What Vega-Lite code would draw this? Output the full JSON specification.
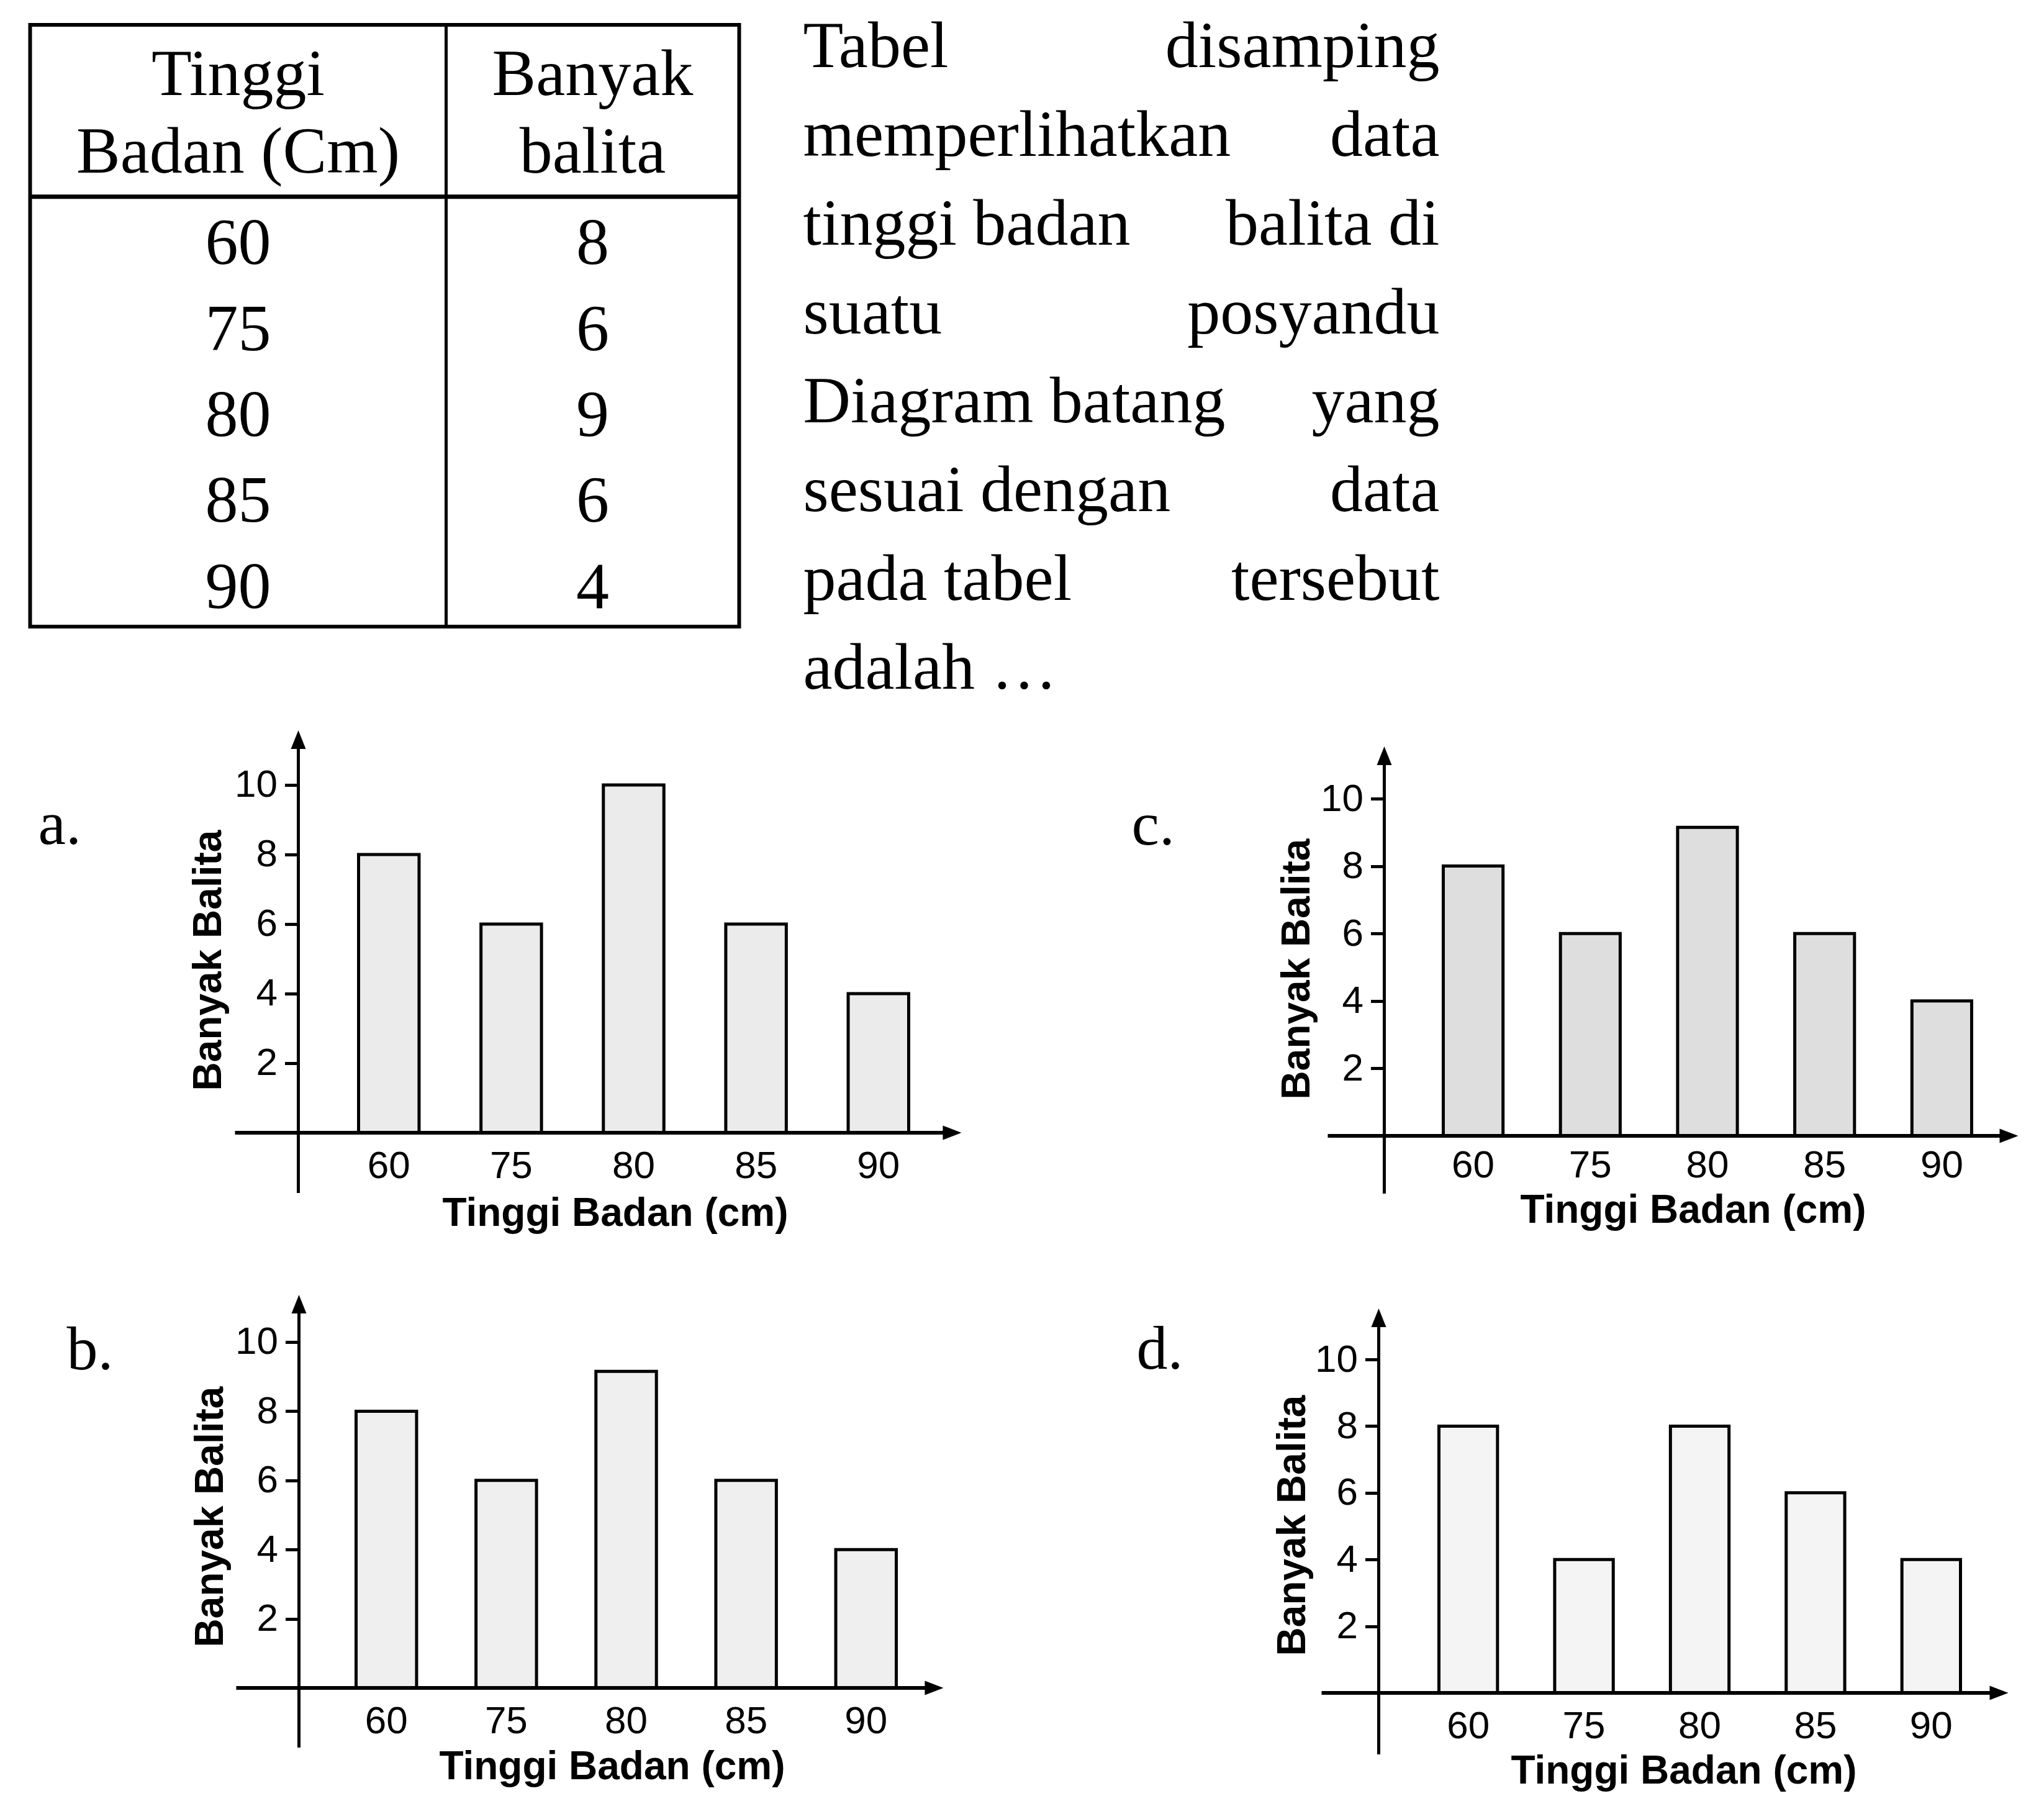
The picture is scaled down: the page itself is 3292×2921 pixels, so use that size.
{
  "$schema": "https://vega.github.io/schema/vega-lite/v6.json",
  "padding": {"left": 41.5, "top": 23, "right": 5, "bottom": 5},
  "background": "white",
  "config": {
    "view": {"stroke": null},
    "axis": {"grid": false, "domain": false, "labelFont": "Liberation Sans", "labelFontSize": 62, "labelColor": "black", "titleFont": "Liberation Sans", "titleFontSize": 64, "titleFontWeight": "bold", "titleColor": "black", "titleAlign": "center", "titleBaseline": "alphabetic", "tickColor": "black"},
    "axisX": {"ticks": false, "tickSize": 0, "labelAngle": 0, "labelPadding": 23},
    "axisY": {"tickSize": 22, "tickWidth": 5, "labelPadding": 12, "titleAngle": -90, "format": "d"}
  },
  "datasets": {
    "tabel": [
      {"tinggi": 60, "banyak": 8},
      {"tinggi": 75, "banyak": 6},
      {"tinggi": 80, "banyak": 9},
      {"tinggi": 85, "banyak": 6},
      {"tinggi": 90, "banyak": 4}
    ],
    "judul_tabel": [
      {"kolom": "tinggi", "judul": ["Tinggi", "Badan (Cm)"]},
      {"kolom": "banyak", "judul": ["Banyak", "balita"]}
    ],
    "paragraf": [
      {"kiri": "Tabel", "kanan": "disamping"},
      {"kiri": "memperlihatkan", "kanan": "data"},
      {"kiri": "tinggi badan", "kanan": "balita di"},
      {"kiri": "suatu", "kanan": "posyandu"},
      {"kiri": "Diagram batang", "kanan": "yang"},
      {"kiri": "sesuai dengan", "kanan": "data"},
      {"kiri": "pada tabel", "kanan": "tersebut"},
      {"kiri": "adalah …", "kanan": ""}
    ],
    "pilihan_a": [
      {"Tinggi": 60, "Banyak": 8},
      {"Tinggi": 75, "Banyak": 6},
      {"Tinggi": 80, "Banyak": 10},
      {"Tinggi": 85, "Banyak": 6},
      {"Tinggi": 90, "Banyak": 4}
    ],
    "pilihan_b": [
      {"Tinggi": 60, "Banyak": 8},
      {"Tinggi": 75, "Banyak": 6},
      {"Tinggi": 80, "Banyak": 9.15},
      {"Tinggi": 85, "Banyak": 6},
      {"Tinggi": 90, "Banyak": 4}
    ],
    "pilihan_c": [
      {"Tinggi": 60, "Banyak": 8},
      {"Tinggi": 75, "Banyak": 6},
      {"Tinggi": 80, "Banyak": 9.15},
      {"Tinggi": 85, "Banyak": 6},
      {"Tinggi": 90, "Banyak": 4}
    ],
    "pilihan_d": [
      {"Tinggi": 60, "Banyak": 8},
      {"Tinggi": 75, "Banyak": 4},
      {"Tinggi": 80, "Banyak": 8},
      {"Tinggi": 85, "Banyak": 6},
      {"Tinggi": 90, "Banyak": 4}
    ]
  },
  "columns": 2,
  "align": {"row": "each", "column": "each"},
  "bounds": "flush",
  "spacing": {"row": 135, "column": 0},
  "concat": [
    {
      "width": 1142,
      "height": 969,
      "view": {"stroke": "black", "strokeWidth": 6},
      "layer": [
        {
          "data": {"name": "tabel"},
          "transform": [{"fold": ["tinggi", "banyak"], "as": ["kolom", "nilai"]}],
          "mark": {"type": "text", "font": "Liberation Serif", "fontSize": 106, "baseline": "alphabetic", "dy": 39, "color": "black"},
          "encoding": {
            "x": {"field": "kolom", "type": "nominal", "scale": {"type": "band", "domain": ["tinggi", "banyak"], "paddingInner": 0.1734, "paddingOuter": 0.0867, "align": 1}, "axis": null},
            "y": {"field": "tinggi", "type": "ordinal", "scale": {"type": "band", "domain": ["h1", "h2", 60, 75, 80, 85, 90], "paddingInner": 0, "paddingOuter": 0}, "axis": null},
            "text": {"field": "nilai", "type": "nominal"}
          }
        },
        {
          "data": {"name": "judul_tabel"},
          "mark": {"type": "text", "font": "Liberation Serif", "fontSize": 106, "baseline": "alphabetic", "dy": 44, "lineHeight": 125, "color": "black"},
          "encoding": {
            "x": {"field": "kolom", "type": "nominal"},
            "y": {"datum": "h1", "type": "ordinal"},
            "text": {"field": "judul", "type": "nominal"}
          }
        },
        {
          "data": {"values": [{}]},
          "mark": {"type": "rule", "color": "black", "strokeWidth": 7},
          "encoding": {"y": {"datum": 60, "type": "ordinal", "bandPosition": 0}}
        },
        {
          "data": {"values": [{}]},
          "mark": {"type": "rule", "color": "black", "strokeWidth": 5},
          "encoding": {"x": {"datum": "banyak", "type": "nominal", "bandPosition": 0}}
        }
      ]
    },
    {
      "width": 1128,
      "height": 1001,
      "data": {"name": "paragraf"},
      "layer": [
        {
          "mark": {"type": "text", "align": "left", "baseline": "alphabetic", "dy": 68, "font": "Liberation Serif", "fontSize": 106, "color": "black"},
          "encoding": {
            "x": {"datum": "awal", "type": "nominal", "scale": {"type": "point", "domain": ["awal", "akhir"], "padding": 0.05024, "align": 1}, "axis": null},
            "y": {"field": "kiri", "type": "ordinal", "sort": null, "scale": {"type": "point", "padding": 0}, "axis": null},
            "text": {"field": "kiri", "type": "nominal"}
          }
        },
        {
          "mark": {"type": "text", "align": "right", "baseline": "alphabetic", "dy": 68, "font": "Liberation Serif", "fontSize": 106, "color": "black"},
          "encoding": {
            "x": {"datum": "akhir", "type": "nominal"},
            "y": {"field": "kiri", "type": "ordinal", "sort": null},
            "text": {"field": "kanan", "type": "nominal"}
          }
        }
      ]
    },
    {
      "width": 1142,
      "height": 774,
      "title": {"text": "a.", "frame": "group", "anchor": "start", "orient": "top", "offset": 0, "dx": 13, "dy": 283, "baseline": "alphabetic", "font": "Liberation Serif", "fontSize": 100, "fontWeight": "normal", "color": "black"},
      "layer": [
        {
          "data": {"name": "pilihan_a"},
          "mark": {"type": "bar", "fill": "#ebebeb", "stroke": "black", "strokeWidth": 5},
          "encoding": {
            "x": {"field": "Tinggi", "type": "nominal", "scale": {"type": "band", "range": [529, 1415], "paddingInner": 0.50567, "paddingOuter": 0, "round": false}, "axis": {"offset": -126, "titleX": 942, "titleY": 149, "title": "Tinggi Badan (cm)"}},
            "y": {"field": "Banyak", "type": "quantitative", "scale": {"domain": [-2.25, 11.5714], "nice": false, "zero": false}, "axis": {"offset": -432, "titleX": -125, "titleY": 370, "title": "Banyak Balita", "values": [2, 4, 6, 8, 10]}}
          }
        },
        {
          "data": {"values": [{}]},
          "mark": {"type": "rule", "color": "black", "strokeWidth": 5},
          "encoding": {"x": {"datum": 60, "type": "nominal", "bandPosition": -0.9954}, "y": {"datum": -1.7321, "type": "quantitative"}, "y2": {"datum": 11.214}}
        },
        {
          "data": {"values": [{}]},
          "mark": {"type": "rule", "color": "black", "strokeWidth": 6},
          "encoding": {"x": {"datum": 60, "type": "nominal", "bandPosition": -2.0421}, "x2": {"datum": 90, "bandPosition": 1.6665}, "y": {"datum": 0, "type": "quantitative"}}
        },
        {
          "data": {"values": [{}]},
          "mark": {"type": "point", "shape": "M0,0L0.8,2L-0.8,2Z", "size": 900, "filled": true, "color": "black", "opacity": 1},
          "encoding": {"x": {"datum": 60, "type": "nominal", "bandPosition": -0.9954}, "y": {"datum": 11.5714, "type": "quantitative"}}
        },
        {
          "data": {"values": [{}]},
          "mark": {"type": "point", "shape": "M0,0L-2,-0.77L-2,0.77Z", "size": 900, "filled": true, "color": "black", "opacity": 1},
          "encoding": {"x": {"datum": 90, "type": "nominal", "bandPosition": 1.8717}, "y": {"datum": 0, "type": "quantitative"}}
        }
      ]
    },
    {
      "width": 2070,
      "height": 774,
      "title": {"text": "c.", "frame": "group", "anchor": "start", "orient": "top", "offset": 0, "dx": 632, "dy": 284, "baseline": "alphabetic", "font": "Liberation Serif", "fontSize": 100, "fontWeight": "normal", "color": "black"},
      "layer": [
        {
          "data": {"name": "pilihan_c"},
          "mark": {"type": "bar", "fill": "#dedede", "stroke": "black", "strokeWidth": 5},
          "encoding": {
            "x": {"field": "Tinggi", "type": "nominal", "scale": {"type": "band", "range": [1134, 1985], "paddingInner": 0.49014, "paddingOuter": 0, "round": false}, "axis": {"offset": -121, "labelPadding": 17, "titleX": 1536, "titleY": 139, "title": "Tinggi Badan (cm)"}},
            "y": {"field": "Banyak", "type": "quantitative", "scale": {"domain": [-2.2284, 12.0258], "nice": false, "zero": false}, "axis": {"offset": -1039, "titleX": -121, "titleY": 384, "title": "Banyak Balita", "values": [2, 4, 6, 8, 10]}}
          }
        },
        {
          "data": {"values": [{}]},
          "mark": {"type": "rule", "color": "black", "strokeWidth": 5},
          "encoding": {"x": {"datum": 60, "type": "nominal", "bandPosition": -0.9875}, "y": {"datum": -1.7127, "type": "quantitative"}, "y2": {"datum": 11.179}}
        },
        {
          "data": {"values": [{}]},
          "mark": {"type": "rule", "color": "black", "strokeWidth": 6},
          "encoding": {"x": {"datum": 60, "type": "nominal", "bandPosition": -1.9335}, "x2": {"datum": 90, "bandPosition": 1.5717}, "y": {"datum": 0, "type": "quantitative"}}
        },
        {
          "data": {"values": [{}]},
          "mark": {"type": "point", "shape": "M0,0L0.8,2L-0.8,2Z", "size": 900, "filled": true, "color": "black", "opacity": 1},
          "encoding": {"x": {"datum": 60, "type": "nominal", "bandPosition": -0.9875}, "y": {"datum": 11.547, "type": "quantitative"}}
        },
        {
          "data": {"values": [{}]},
          "mark": {"type": "point", "shape": "M0,0L-2,-0.77L-2,0.77Z", "size": 900, "filled": true, "color": "black", "opacity": 1},
          "encoding": {"x": {"datum": 90, "type": "nominal", "bandPosition": 1.7796}, "y": {"datum": 0, "type": "quantitative"}}
        }
      ]
    },
    {
      "width": 1142,
      "height": 770,
      "title": {"text": "b.", "frame": "group", "anchor": "start", "orient": "top", "offset": 0, "dx": 59, "dy": 220, "baseline": "alphabetic", "font": "Liberation Serif", "fontSize": 100, "fontWeight": "normal", "color": "black"},
      "layer": [
        {
          "data": {"name": "pilihan_b"},
          "mark": {"type": "bar", "fill": "#efefef", "stroke": "black", "strokeWidth": 5},
          "encoding": {
            "x": {"field": "Tinggi", "type": "nominal", "scale": {"type": "band", "range": [525, 1395], "paddingInner": 0.4955, "paddingOuter": 0, "round": false}, "axis": {"offset": -137, "titleX": 937, "titleY": 146, "title": "Tinggi Badan (cm)"}},
            "y": {"field": "Banyak", "type": "quantitative", "scale": {"domain": [-2.4596, 11.364], "nice": false, "zero": false}, "axis": {"offset": -433, "titleX": -123, "titleY": 357, "title": "Banyak Balita", "values": [2, 4, 6, 8, 10]}}
          }
        },
        {
          "data": {"values": [{}]},
          "mark": {"type": "rule", "color": "black", "strokeWidth": 5},
          "encoding": {"x": {"datum": 60, "type": "nominal", "bandPosition": -0.9442}, "y": {"datum": -1.7235, "type": "quantitative"}, "y2": {"datum": 11.005}}
        },
        {
          "data": {"values": [{}]},
          "mark": {"type": "rule", "color": "black", "strokeWidth": 6},
          "encoding": {"x": {"datum": 60, "type": "nominal", "bandPosition": -1.9807}, "x2": {"datum": 90, "bandPosition": 1.5743}, "y": {"datum": 0, "type": "quantitative"}}
        },
        {
          "data": {"values": [{}]},
          "mark": {"type": "point", "shape": "M0,0L0.8,2L-0.8,2Z", "size": 900, "filled": true, "color": "black", "opacity": 1},
          "encoding": {"x": {"datum": 60, "type": "nominal", "bandPosition": -0.9442}, "y": {"datum": 11.364, "type": "quantitative"}}
        },
        {
          "data": {"values": [{}]},
          "mark": {"type": "point", "shape": "M0,0L-2,-0.77L-2,0.77Z", "size": 900, "filled": true, "color": "black", "opacity": 1},
          "encoding": {"x": {"datum": 90, "type": "nominal", "bandPosition": 1.7796}, "y": {"datum": 0, "type": "quantitative"}}
        }
      ]
    },
    {
      "width": 2060,
      "height": 770,
      "title": {"text": "d.", "frame": "group", "anchor": "start", "orient": "top", "offset": 0, "dx": 640, "dy": 219, "baseline": "alphabetic", "font": "Liberation Serif", "fontSize": 100, "fontWeight": "normal", "color": "black"},
      "layer": [
        {
          "data": {"name": "pilihan_d"},
          "mark": {"type": "bar", "fill": "#f4f4f4", "stroke": "black", "strokeWidth": 5},
          "encoding": {
            "x": {"field": "Tinggi", "type": "nominal", "scale": {"type": "band", "range": [1127, 1967], "paddingInner": 0.49401, "paddingOuter": 0, "round": false}, "axis": {"offset": -129, "titleX": 1521, "titleY": 145, "title": "Tinggi Badan (cm)"}},
            "y": {"field": "Banyak", "type": "quantitative", "scale": {"domain": [-2.402, 11.937], "nice": false, "zero": false}, "axis": {"offset": -1030, "titleX": -119, "titleY": 371, "title": "Banyak Balita", "values": [2, 4, 6, 8, 10]}}
          }
        },
        {
          "data": {"values": [{}]},
          "mark": {"type": "rule", "color": "black", "strokeWidth": 5},
          "encoding": {"x": {"datum": 60, "type": "nominal", "bandPosition": -1.0283}, "y": {"datum": -1.844, "type": "quantitative"}, "y2": {"datum": 11.155}}
        },
        {
          "data": {"values": [{}]},
          "mark": {"type": "rule", "color": "black", "strokeWidth": 6},
          "encoding": {"x": {"datum": 60, "type": "nominal", "bandPosition": -2.0036}, "x2": {"datum": 90, "bandPosition": 1.604}, "y": {"datum": 0, "type": "quantitative"}}
        },
        {
          "data": {"values": [{}]},
          "mark": {"type": "point", "shape": "M0,0L0.8,2L-0.8,2Z", "size": 900, "filled": true, "color": "black", "opacity": 1},
          "encoding": {"x": {"datum": 60, "type": "nominal", "bandPosition": -1.0283}, "y": {"datum": 11.527, "type": "quantitative"}}
        },
        {
          "data": {"values": [{}]},
          "mark": {"type": "point", "shape": "M0,0L-2,-0.77L-2,0.77Z", "size": 900, "filled": true, "color": "black", "opacity": 1},
          "encoding": {"x": {"datum": 90, "type": "nominal", "bandPosition": 1.816}, "y": {"datum": 0, "type": "quantitative"}}
        }
      ]
    }
  ]
}
